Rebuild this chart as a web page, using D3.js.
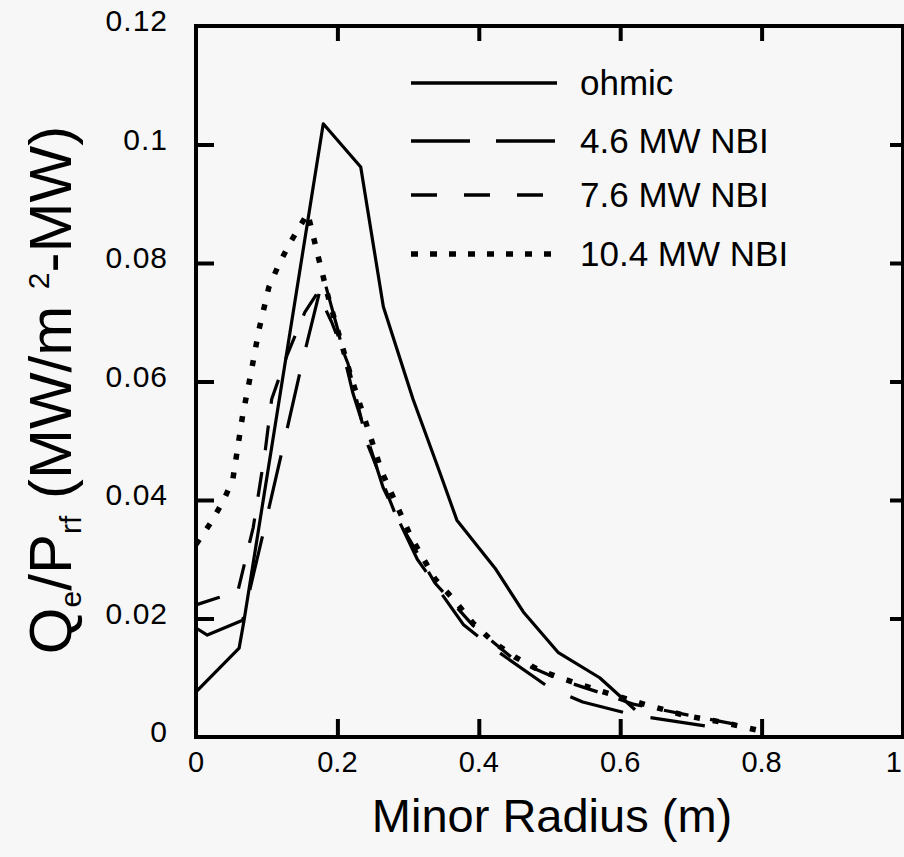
<!DOCTYPE html>
<html>
  <head>
    <meta charset="utf-8">
    <script src="https://d3js.org/d3.v7.min.js"></script>
    <style>
      body { margin: 0; background: #f7f7f7; }
      svg { display: block; }
      text { font-family: "Liberation Sans", Arial, Helvetica, sans-serif; fill: #000; }
    </style>
  </head>
<body>
  <script type="text/javascript">
    "use strict";

    // ---- data ----
    var ohmicR = [0, 0.061, 0.068, 0.18, 0.233, 0.265, 0.307, 0.345, 0.369, 0.423, 0.463, 0.512, 0.571, 0.621];
    var ohmicQ = [0.0076, 0.015, 0.0197, 0.1035, 0.0962, 0.0726, 0.057, 0.0446, 0.0366, 0.0285, 0.0211, 0.0143, 0.0100, 0.0046];

    var nbi46R = [0, 0.016, 0.066, 0.095, 0.122, 0.151, 0.18, 0.2, 0.222, 0.265, 0.313, 0.378, 0.42, 0.5, 0.547, 0.62, 0.74];
    var nbi46Q = [0.0184, 0.0172, 0.0197, 0.0344, 0.0484, 0.0636, 0.0777, 0.069, 0.058, 0.042, 0.030, 0.019, 0.015, 0.0083, 0.0059, 0.0037, 0.0015];

    var nbi76R = [0, 0.031, 0.059, 0.081, 0.098, 0.107, 0.129, 0.154, 0.172, 0.192, 0.215, 0.242, 0.284, 0.338, 0.392, 0.451, 0.512, 0.571, 0.62, 0.79];
    var nbi76Q = [0.0223, 0.0235, 0.0245, 0.0354, 0.0484, 0.057, 0.0645, 0.0717, 0.075, 0.070, 0.063, 0.0496, 0.037, 0.026, 0.0188, 0.013, 0.0098, 0.0075, 0.0055, 0.0015];

    var nbi104R = [0, 0.02, 0.038, 0.052, 0.066, 0.078, 0.089, 0.103, 0.117, 0.133, 0.158, 0.173, 0.188, 0.22, 0.263, 0.304, 0.338, 0.366, 0.392, 0.421, 0.451, 0.482, 0.512, 0.571, 0.632, 0.689, 0.748, 0.8];
    var nbi104Q = [0.0325, 0.036, 0.0397, 0.0434, 0.0543, 0.0616, 0.0687, 0.0759, 0.0797, 0.0834, 0.0884, 0.081, 0.0738, 0.0605, 0.0447, 0.0338, 0.0267, 0.023, 0.0192, 0.016, 0.0135, 0.0115, 0.0101, 0.0078, 0.0056, 0.0037, 0.0024, 0.001];

    var seriesNames = ["ohmic", "4.6 MW NBI", "7.6 MW NBI", "10.4 MW NBI"];
    var xTicks = [0, 0.2, 0.4, 0.6, 0.8, 1];
    var yTicks = [0, 0.02, 0.04, 0.06, 0.08, 0.1, 0.12];

    // ---- setup ----
    var W = 904, H = 857;
    var pLeft = 196, pRight = 903, pTop = 26, pBottom = 737;

    var svg = d3.select("body").append("svg")
        .attr("width", W)
        .attr("height", H);

    var x = d3.scaleLinear().domain([0, 1]).range([pLeft, pRight]);
    var y = d3.scaleLinear().domain([0, 0.12]).range([pBottom, pTop]);

    var fmt = function (d) { return String(+d.toFixed(2)); };

    // bottom axis with labels
    var gx = svg.append("g")
        .attr("transform", "translate(0," + pBottom + ")")
        .call(d3.axisBottom(x).tickValues(xTicks.slice(1, 5)).tickSizeInner(-18).tickSizeOuter(0).tickFormat(""));
    svg.append("g").selectAll("text")
        .data(xTicks)
      .enter().append("text")
        .attr("x", function (d) { return d === 1 ? x(d) - 1 : x(d); })
        .attr("y", 772)
        .attr("text-anchor", function (d) { return d === 1 ? "end" : "middle"; })
        .style("font-size", "29px")
        .text(fmt);

    // top axis ticks
    var gt = svg.append("g")
        .attr("transform", "translate(0," + pTop + ")")
        .call(d3.axisTop(x).tickValues(xTicks.slice(1, 5)).tickSizeInner(-15).tickSizeOuter(0).tickFormat(""));

    // left axis
    var gy = svg.append("g")
        .attr("transform", "translate(" + pLeft + ",0)")
        .call(d3.axisLeft(y).tickValues(yTicks.slice(1, 6)).tickSizeInner(-18).tickSizeOuter(0).tickFormat(""));
    svg.append("g").selectAll("text")
        .data(yTicks)
      .enter().append("text")
        .attr("x", 168)
        .attr("y", function (d) { return y(d) + 5; })
        .attr("text-anchor", "end")
        .style("font-size", "30px")
        .style("letter-spacing", "1px")
        .text(fmt);

    // right axis ticks
    var gr = svg.append("g")
        .attr("transform", "translate(" + pRight + ",0)")
        .call(d3.axisRight(y).tickValues(yTicks.slice(1, 6)).tickSizeInner(-13).tickSizeOuter(0).tickFormat(""));

    [gx, gt, gy, gr].forEach(function (g) {
      g.select(".domain").remove();
      g.selectAll("line").attr("stroke", "#000").attr("stroke-width", 4);
    });

    // frame
    svg.append("rect")
        .attr("x", pLeft)
        .attr("y", pTop)
        .attr("width", pRight - pLeft)
        .attr("height", pBottom - pTop)
        .attr("fill", "none")
        .attr("stroke", "#000")
        .attr("stroke-width", 4);

    // axis titles
    svg.append("text")
        .attr("x", 552)
        .attr("y", 832)
        .attr("text-anchor", "middle")
        .style("font-size", "47px")
        .text("Minor Radius (m)");

    var yt = svg.append("text")
        .attr("transform", "translate(71,390) rotate(-90)")
        .attr("text-anchor", "middle")
        .style("font-size", "60px");
    yt.append("tspan").text("Q");
    yt.append("tspan").attr("dy", 10).style("font-size", "30px").text("e");
    yt.append("tspan").attr("dy", -10).text("/P");
    yt.append("tspan").attr("dy", 10).style("font-size", "30px").text("rf");
    yt.append("tspan").attr("dy", -10).text(" (MW/m ");
    yt.append("tspan").attr("dy", -22).style("font-size", "30px").text("2");
    yt.append("tspan").attr("dy", 22).text("-MW)");

    // ---- curves ----
    var styles = [
      { dash: null, width: 3.2 },
      { dash: "55,28", width: 3.2 },
      { dash: "25,22", width: 3.2 },
      { dash: "6,13", width: 5.5 }
    ];
    var curves = [
      d3.zip(ohmicR, ohmicQ),
      d3.zip(nbi46R, nbi46Q),
      d3.zip(nbi76R, nbi76Q),
      d3.zip(nbi104R, nbi104Q)
    ];

    var line = d3.line()
        .x(function (d) { return x(d[0]); })
        .y(function (d) { return y(d[1]); });

    svg.append("g").selectAll("path")
        .data(curves)
      .enter().append("path")
        .attr("d", line)
        .attr("fill", "none")
        .attr("stroke", "#000")
        .attr("stroke-linejoin", "round")
        .attr("stroke-width", function (d, i) { return styles[i].width; })
        .attr("stroke-dasharray", function (d, i) { return styles[i].dash; });

    // ---- legend ----
    var legendY = [83, 141, 195, 254];
    var legendDash = [null, "59,26", "26,27", "7,12"];
    var lg = svg.append("g");
    seriesNames.forEach(function (name, i) {
      lg.append("line")
          .attr("x1", 411).attr("x2", 557)
          .attr("y1", legendY[i]).attr("y2", legendY[i])
          .attr("stroke", "#000")
          .attr("stroke-width", i === 3 ? 5.5 : 3.4)
          .attr("stroke-dasharray", legendDash[i]);
      lg.append("text")
          .attr("x", 580)
          .attr("y", legendY[i] + 12)
          .style("font-size", "35px")
          .text(name);
    });
  </script>
</body>
</html>
